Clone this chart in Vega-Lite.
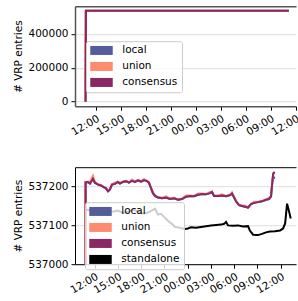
{
  "$schema": "https://vega.github.io/schema/vega-lite/v6.json",
  "padding": {"left": 13, "top": 6.2, "right": 0, "bottom": 0},
  "spacing": 29,
  "resolve": {"scale": {"color": "independent"}, "legend": {"color": "independent"}},
  "config": {
    "font": "DejaVu Sans",
    "view": {"stroke": null},
    "axis": {
      "labelFont": "DejaVu Sans", "titleFont": "DejaVu Sans",
      "labelFontSize": 10.5, "titleFontSize": 10.5, "titleFontWeight": "normal",
      "labelColor": "#000000", "titleColor": "#000000",
      "tickColor": "#000000", "domainColor": "#000000",
      "tickSize": 4, "labelPadding": 3, "domainWidth": 1, "tickWidth": 1,
      "gridColor": "#dedede", "gridWidth": 1
    },
    "axisX": {"grid": false, "labelAngle": -30, "labelAlign": "right", "labelBaseline": "top", "format": "%H:%M", "title": null, "labelOverlap": false, "labelFlush": false},
    "axisY": {"grid": true, "titlePadding": 4, "labelFlush": false, "labelOverlap": false, "format": "d"},
    "legend": {
      "title": null, "orient": "none",
      "symbolType": "M-2.5,-1H2.5V1H-2.5Z", "symbolSize": 81, "symbolStrokeWidth": 0,
      "symbolOffset": 6.25, "labelOffset": 15.5, "rowPadding": 5,
      "labelFont": "DejaVu Sans", "labelFontSize": 10.5, "labelColor": "#000000",
      "padding": 4, "fillColor": "rgba(255,255,255,0.8)", "strokeColor": "#cccccc", "cornerRadius": 2
    }
  },
  "datasets": {
    "vrp": [
      {"series":"local","time":"2021-06-01T10:47","vrps":0},
      {"series":"local","time":"2021-06-01T10:50","vrps":537211},
      {"series":"local","time":"2021-06-01T11:08","vrps":537212},
      {"series":"local","time":"2021-06-01T11:24","vrps":537208},
      {"series":"local","time":"2021-06-01T11:47","vrps":537220},
      {"series":"local","time":"2021-06-01T12:02","vrps":537210},
      {"series":"local","time":"2021-06-01T12:26","vrps":537205},
      {"series":"local","time":"2021-06-01T12:49","vrps":537203},
      {"series":"local","time":"2021-06-01T13:12","vrps":537198},
      {"series":"local","time":"2021-06-01T13:27","vrps":537196},
      {"series":"local","time":"2021-06-01T13:43","vrps":537188},
      {"series":"local","time":"2021-06-01T13:58","vrps":537192},
      {"series":"local","time":"2021-06-01T14:14","vrps":537205},
      {"series":"local","time":"2021-06-01T14:37","vrps":537207},
      {"series":"local","time":"2021-06-01T15:00","vrps":537212},
      {"series":"local","time":"2021-06-01T15:16","vrps":537208},
      {"series":"local","time":"2021-06-01T15:39","vrps":537212},
      {"series":"local","time":"2021-06-01T16:02","vrps":537214},
      {"series":"local","time":"2021-06-01T16:26","vrps":537210},
      {"series":"local","time":"2021-06-01T16:49","vrps":537215},
      {"series":"local","time":"2021-06-01T17:12","vrps":537212},
      {"series":"local","time":"2021-06-01T17:35","vrps":537216},
      {"series":"local","time":"2021-06-01T17:59","vrps":537213},
      {"series":"local","time":"2021-06-01T18:22","vrps":537217},
      {"series":"local","time":"2021-06-01T18:45","vrps":537214},
      {"series":"local","time":"2021-06-01T19:00","vrps":537210},
      {"series":"local","time":"2021-06-01T19:16","vrps":537196},
      {"series":"local","time":"2021-06-01T19:31","vrps":537183},
      {"series":"local","time":"2021-06-01T19:47","vrps":537176},
      {"series":"local","time":"2021-06-01T20:10","vrps":537172},
      {"series":"local","time":"2021-06-01T20:41","vrps":537170},
      {"series":"local","time":"2021-06-01T21:12","vrps":537172},
      {"series":"local","time":"2021-06-01T21:43","vrps":537168},
      {"series":"local","time":"2021-06-01T22:14","vrps":537170},
      {"series":"local","time":"2021-06-01T22:45","vrps":537166},
      {"series":"local","time":"2021-06-01T23:16","vrps":537168},
      {"series":"local","time":"2021-06-01T23:47","vrps":537174},
      {"series":"local","time":"2021-06-02T00:18","vrps":537176},
      {"series":"local","time":"2021-06-02T00:49","vrps":537175},
      {"series":"local","time":"2021-06-02T01:20","vrps":537179},
      {"series":"local","time":"2021-06-02T01:51","vrps":537181},
      {"series":"local","time":"2021-06-02T02:22","vrps":537180},
      {"series":"local","time":"2021-06-02T02:53","vrps":537183},
      {"series":"local","time":"2021-06-02T03:08","vrps":537186},
      {"series":"local","time":"2021-06-02T03:24","vrps":537176},
      {"series":"local","time":"2021-06-02T03:55","vrps":537176},
      {"series":"local","time":"2021-06-02T04:26","vrps":537177},
      {"series":"local","time":"2021-06-02T04:57","vrps":537175},
      {"series":"local","time":"2021-06-02T05:28","vrps":537178},
      {"series":"local","time":"2021-06-02T05:43","vrps":537182},
      {"series":"local","time":"2021-06-02T05:59","vrps":537172},
      {"series":"local","time":"2021-06-02T06:14","vrps":537162},
      {"series":"local","time":"2021-06-02T06:37","vrps":537152},
      {"series":"local","time":"2021-06-02T07:01","vrps":537150},
      {"series":"local","time":"2021-06-02T07:23","vrps":537148},
      {"series":"local","time":"2021-06-02T07:47","vrps":537146},
      {"series":"local","time":"2021-06-02T08:10","vrps":537155},
      {"series":"local","time":"2021-06-02T08:34","vrps":537158},
      {"series":"local","time":"2021-06-02T09:04","vrps":537160},
      {"series":"local","time":"2021-06-02T09:35","vrps":537162},
      {"series":"local","time":"2021-06-02T10:06","vrps":537166},
      {"series":"local","time":"2021-06-02T10:29","vrps":537168},
      {"series":"local","time":"2021-06-02T10:45","vrps":537175},
      {"series":"local","time":"2021-06-02T10:53","vrps":537205},
      {"series":"local","time":"2021-06-02T11:01","vrps":537228},
      {"series":"local","time":"2021-06-02T11:12","vrps":537220},
      {"series":"union","time":"2021-06-01T10:43","vrps":0},
      {"series":"union","time":"2021-06-01T10:46","vrps":537211},
      {"series":"union","time":"2021-06-01T11:08","vrps":537213},
      {"series":"union","time":"2021-06-01T11:24","vrps":537212},
      {"series":"union","time":"2021-06-01T11:47","vrps":537228},
      {"series":"union","time":"2021-06-01T12:02","vrps":537212},
      {"series":"union","time":"2021-06-01T12:26","vrps":537206},
      {"series":"union","time":"2021-06-01T12:49","vrps":537204},
      {"series":"union","time":"2021-06-01T13:12","vrps":537199},
      {"series":"union","time":"2021-06-01T13:27","vrps":537197},
      {"series":"union","time":"2021-06-01T13:43","vrps":537189},
      {"series":"union","time":"2021-06-01T13:58","vrps":537193},
      {"series":"union","time":"2021-06-01T14:14","vrps":537206},
      {"series":"union","time":"2021-06-01T14:37","vrps":537210},
      {"series":"union","time":"2021-06-01T15:00","vrps":537213},
      {"series":"union","time":"2021-06-01T15:16","vrps":537209},
      {"series":"union","time":"2021-06-01T15:39","vrps":537213},
      {"series":"union","time":"2021-06-01T16:02","vrps":537215},
      {"series":"union","time":"2021-06-01T16:26","vrps":537211},
      {"series":"union","time":"2021-06-01T16:49","vrps":537218},
      {"series":"union","time":"2021-06-01T17:12","vrps":537213},
      {"series":"union","time":"2021-06-01T17:35","vrps":537217},
      {"series":"union","time":"2021-06-01T17:59","vrps":537214},
      {"series":"union","time":"2021-06-01T18:22","vrps":537219},
      {"series":"union","time":"2021-06-01T18:45","vrps":537215},
      {"series":"union","time":"2021-06-01T19:00","vrps":537211},
      {"series":"union","time":"2021-06-01T19:16","vrps":537197},
      {"series":"union","time":"2021-06-01T19:31","vrps":537186},
      {"series":"union","time":"2021-06-01T19:47","vrps":537177},
      {"series":"union","time":"2021-06-01T20:10","vrps":537173},
      {"series":"union","time":"2021-06-01T20:41","vrps":537171},
      {"series":"union","time":"2021-06-01T21:12","vrps":537175},
      {"series":"union","time":"2021-06-01T21:43","vrps":537169},
      {"series":"union","time":"2021-06-01T22:14","vrps":537171},
      {"series":"union","time":"2021-06-01T22:45","vrps":537167},
      {"series":"union","time":"2021-06-01T23:16","vrps":537169},
      {"series":"union","time":"2021-06-01T23:47","vrps":537177},
      {"series":"union","time":"2021-06-02T00:18","vrps":537177},
      {"series":"union","time":"2021-06-02T00:49","vrps":537176},
      {"series":"union","time":"2021-06-02T01:20","vrps":537182},
      {"series":"union","time":"2021-06-02T01:51","vrps":537182},
      {"series":"union","time":"2021-06-02T02:22","vrps":537181},
      {"series":"union","time":"2021-06-02T02:53","vrps":537186},
      {"series":"union","time":"2021-06-02T03:08","vrps":537187},
      {"series":"union","time":"2021-06-02T03:24","vrps":537177},
      {"series":"union","time":"2021-06-02T03:55","vrps":537177},
      {"series":"union","time":"2021-06-02T04:26","vrps":537180},
      {"series":"union","time":"2021-06-02T04:57","vrps":537176},
      {"series":"union","time":"2021-06-02T05:28","vrps":537179},
      {"series":"union","time":"2021-06-02T05:43","vrps":537185},
      {"series":"union","time":"2021-06-02T05:59","vrps":537173},
      {"series":"union","time":"2021-06-02T06:14","vrps":537163},
      {"series":"union","time":"2021-06-02T06:37","vrps":537153},
      {"series":"union","time":"2021-06-02T07:01","vrps":537151},
      {"series":"union","time":"2021-06-02T07:23","vrps":537151},
      {"series":"union","time":"2021-06-02T07:47","vrps":537147},
      {"series":"union","time":"2021-06-02T08:10","vrps":537156},
      {"series":"union","time":"2021-06-02T08:34","vrps":537161},
      {"series":"union","time":"2021-06-02T09:04","vrps":537161},
      {"series":"union","time":"2021-06-02T09:35","vrps":537163},
      {"series":"union","time":"2021-06-02T10:06","vrps":537167},
      {"series":"union","time":"2021-06-02T10:29","vrps":537171},
      {"series":"union","time":"2021-06-02T10:45","vrps":537176},
      {"series":"union","time":"2021-06-02T10:53","vrps":537206},
      {"series":"union","time":"2021-06-02T11:01","vrps":537233},
      {"series":"union","time":"2021-06-02T11:12","vrps":537236},
      {"series":"consensus","time":"2021-06-01T10:47","vrps":0},
      {"series":"consensus","time":"2021-06-01T10:50","vrps":537211},
      {"series":"consensus","time":"2021-06-01T11:08","vrps":537212},
      {"series":"consensus","time":"2021-06-01T11:24","vrps":537208},
      {"series":"consensus","time":"2021-06-01T11:47","vrps":537220},
      {"series":"consensus","time":"2021-06-01T12:02","vrps":537210},
      {"series":"consensus","time":"2021-06-01T12:26","vrps":537205},
      {"series":"consensus","time":"2021-06-01T12:49","vrps":537203},
      {"series":"consensus","time":"2021-06-01T13:12","vrps":537198},
      {"series":"consensus","time":"2021-06-01T13:27","vrps":537196},
      {"series":"consensus","time":"2021-06-01T13:43","vrps":537188},
      {"series":"consensus","time":"2021-06-01T13:58","vrps":537192},
      {"series":"consensus","time":"2021-06-01T14:14","vrps":537205},
      {"series":"consensus","time":"2021-06-01T14:37","vrps":537207},
      {"series":"consensus","time":"2021-06-01T15:00","vrps":537212},
      {"series":"consensus","time":"2021-06-01T15:16","vrps":537208},
      {"series":"consensus","time":"2021-06-01T15:39","vrps":537212},
      {"series":"consensus","time":"2021-06-01T16:02","vrps":537214},
      {"series":"consensus","time":"2021-06-01T16:26","vrps":537210},
      {"series":"consensus","time":"2021-06-01T16:49","vrps":537215},
      {"series":"consensus","time":"2021-06-01T17:12","vrps":537212},
      {"series":"consensus","time":"2021-06-01T17:35","vrps":537216},
      {"series":"consensus","time":"2021-06-01T17:59","vrps":537213},
      {"series":"consensus","time":"2021-06-01T18:22","vrps":537217},
      {"series":"consensus","time":"2021-06-01T18:45","vrps":537214},
      {"series":"consensus","time":"2021-06-01T19:00","vrps":537210},
      {"series":"consensus","time":"2021-06-01T19:16","vrps":537196},
      {"series":"consensus","time":"2021-06-01T19:31","vrps":537183},
      {"series":"consensus","time":"2021-06-01T19:47","vrps":537176},
      {"series":"consensus","time":"2021-06-01T20:10","vrps":537172},
      {"series":"consensus","time":"2021-06-01T20:41","vrps":537170},
      {"series":"consensus","time":"2021-06-01T21:12","vrps":537172},
      {"series":"consensus","time":"2021-06-01T21:43","vrps":537168},
      {"series":"consensus","time":"2021-06-01T22:14","vrps":537170},
      {"series":"consensus","time":"2021-06-01T22:45","vrps":537166},
      {"series":"consensus","time":"2021-06-01T23:16","vrps":537168},
      {"series":"consensus","time":"2021-06-01T23:47","vrps":537174},
      {"series":"consensus","time":"2021-06-02T00:18","vrps":537176},
      {"series":"consensus","time":"2021-06-02T00:49","vrps":537175},
      {"series":"consensus","time":"2021-06-02T01:20","vrps":537179},
      {"series":"consensus","time":"2021-06-02T01:51","vrps":537181},
      {"series":"consensus","time":"2021-06-02T02:22","vrps":537180},
      {"series":"consensus","time":"2021-06-02T02:53","vrps":537183},
      {"series":"consensus","time":"2021-06-02T03:08","vrps":537186},
      {"series":"consensus","time":"2021-06-02T03:24","vrps":537176},
      {"series":"consensus","time":"2021-06-02T03:55","vrps":537176},
      {"series":"consensus","time":"2021-06-02T04:26","vrps":537177},
      {"series":"consensus","time":"2021-06-02T04:57","vrps":537175},
      {"series":"consensus","time":"2021-06-02T05:28","vrps":537178},
      {"series":"consensus","time":"2021-06-02T05:43","vrps":537182},
      {"series":"consensus","time":"2021-06-02T05:59","vrps":537172},
      {"series":"consensus","time":"2021-06-02T06:14","vrps":537162},
      {"series":"consensus","time":"2021-06-02T06:37","vrps":537152},
      {"series":"consensus","time":"2021-06-02T07:01","vrps":537150},
      {"series":"consensus","time":"2021-06-02T07:23","vrps":537148},
      {"series":"consensus","time":"2021-06-02T07:47","vrps":537146},
      {"series":"consensus","time":"2021-06-02T08:10","vrps":537155},
      {"series":"consensus","time":"2021-06-02T08:34","vrps":537158},
      {"series":"consensus","time":"2021-06-02T09:04","vrps":537160},
      {"series":"consensus","time":"2021-06-02T09:35","vrps":537162},
      {"series":"consensus","time":"2021-06-02T10:06","vrps":537166},
      {"series":"consensus","time":"2021-06-02T10:29","vrps":537168},
      {"series":"consensus","time":"2021-06-02T10:45","vrps":537175},
      {"series":"consensus","time":"2021-06-02T10:53","vrps":537205},
      {"series":"consensus","time":"2021-06-02T11:01","vrps":537232},
      {"series":"consensus","time":"2021-06-02T11:12","vrps":537238},
      {"series":"standalone","time":"2021-06-01T10:47","vrps":537140},
      {"series":"standalone","time":"2021-06-01T12:26","vrps":537138},
      {"series":"standalone","time":"2021-06-01T13:43","vrps":537140},
      {"series":"standalone","time":"2021-06-01T14:22","vrps":537135},
      {"series":"standalone","time":"2021-06-01T15:00","vrps":537138},
      {"series":"standalone","time":"2021-06-01T15:39","vrps":537132},
      {"series":"standalone","time":"2021-06-01T16:18","vrps":537135},
      {"series":"standalone","time":"2021-06-01T16:57","vrps":537140},
      {"series":"standalone","time":"2021-06-01T17:35","vrps":537136},
      {"series":"standalone","time":"2021-06-01T18:14","vrps":537130},
      {"series":"standalone","time":"2021-06-01T18:53","vrps":537133},
      {"series":"standalone","time":"2021-06-01T19:31","vrps":537140},
      {"series":"standalone","time":"2021-06-01T19:47","vrps":537143},
      {"series":"standalone","time":"2021-06-01T20:10","vrps":537128},
      {"series":"standalone","time":"2021-06-01T20:33","vrps":537130},
      {"series":"standalone","time":"2021-06-01T21:04","vrps":537120},
      {"series":"standalone","time":"2021-06-01T21:27","vrps":537112},
      {"series":"standalone","time":"2021-06-01T21:58","vrps":537104},
      {"series":"standalone","time":"2021-06-01T22:22","vrps":537096},
      {"series":"standalone","time":"2021-06-01T22:45","vrps":537095},
      {"series":"standalone","time":"2021-06-01T23:08","vrps":537093},
      {"series":"standalone","time":"2021-06-01T23:39","vrps":537091},
      {"series":"standalone","time":"2021-06-02T00:02","vrps":537092},
      {"series":"standalone","time":"2021-06-02T00:25","vrps":537095},
      {"series":"standalone","time":"2021-06-02T01:04","vrps":537094},
      {"series":"standalone","time":"2021-06-02T01:43","vrps":537096},
      {"series":"standalone","time":"2021-06-02T02:22","vrps":537098},
      {"series":"standalone","time":"2021-06-02T03:01","vrps":537100},
      {"series":"standalone","time":"2021-06-02T03:40","vrps":537101},
      {"series":"standalone","time":"2021-06-02T04:18","vrps":537102},
      {"series":"standalone","time":"2021-06-02T04:42","vrps":537104},
      {"series":"standalone","time":"2021-06-02T04:57","vrps":537109},
      {"series":"standalone","time":"2021-06-02T05:12","vrps":537100},
      {"series":"standalone","time":"2021-06-02T05:51","vrps":537099},
      {"series":"standalone","time":"2021-06-02T06:30","vrps":537100},
      {"series":"standalone","time":"2021-06-02T07:08","vrps":537097},
      {"series":"standalone","time":"2021-06-02T07:47","vrps":537098},
      {"series":"standalone","time":"2021-06-02T08:02","vrps":537086},
      {"series":"standalone","time":"2021-06-02T08:26","vrps":537076},
      {"series":"standalone","time":"2021-06-02T09:04","vrps":537075},
      {"series":"standalone","time":"2021-06-02T09:35","vrps":537078},
      {"series":"standalone","time":"2021-06-02T10:06","vrps":537082},
      {"series":"standalone","time":"2021-06-02T10:37","vrps":537084},
      {"series":"standalone","time":"2021-06-02T11:16","vrps":537085},
      {"series":"standalone","time":"2021-06-02T11:55","vrps":537087},
      {"series":"standalone","time":"2021-06-02T12:18","vrps":537092},
      {"series":"standalone","time":"2021-06-02T12:34","vrps":537105},
      {"series":"standalone","time":"2021-06-02T12:49","vrps":537156},
      {"series":"standalone","time":"2021-06-02T13:05","vrps":537135},
      {"series":"standalone","time":"2021-06-02T13:17","vrps":537118}
    ]
  },
  "vconcat": [
    {
      "width": 221,
      "height": 100,
      "data": {"name": "vrp"},
      "transform": [{"filter": "datum.series !== 'standalone'"}],
      "layer": [
        {
          "mark": {"type": "line", "clip": true, "strokeWidth": 2},
          "encoding": {
            "x": {"field": "time", "type": "temporal",
                  "scale": {"domain": [{"year": 2021, "month": 6, "date": 1, "hours": 9, "minutes": 31}, {"year": 2021, "month": 6, "date": 2, "hours": 12, "minutes": 3}]},
                  "axis": {"domainColor": "#555555", "domainWidth": 1.5, "values": [
                    {"year": 2021, "month": 6, "date": 1, "hours": 12}, {"year": 2021, "month": 6, "date": 1, "hours": 15},
                    {"year": 2021, "month": 6, "date": 1, "hours": 18}, {"year": 2021, "month": 6, "date": 1, "hours": 21},
                    {"year": 2021, "month": 6, "date": 2, "hours": 0}, {"year": 2021, "month": 6, "date": 2, "hours": 3},
                    {"year": 2021, "month": 6, "date": 2, "hours": 6}, {"year": 2021, "month": 6, "date": 2, "hours": 9},
                    {"year": 2021, "month": 6, "date": 2, "hours": 12}]}},
            "y": {"field": "vrps", "type": "quantitative",
                  "scale": {"domain": [-26862, 564100], "nice": false, "zero": false},
                  "axis": {"title": "# VRP entries", "values": [0, 200000, 400000], "domainColor": "#555555", "domainWidth": 1.5}},
            "color": {"field": "series", "type": "nominal",
                      "scale": {"domain": ["local", "union", "consensus"], "range": ["#555c9c", "#fd8b70", "#8a2863"]},
                      "legend": {"legendX": 11, "legendY": 35,
                                 "encode": {"symbols": {"update": {"fill": {"signal": "datum.value === 'local' ? '#555c9c' : datum.value === 'union' ? '#fd8b70' : datum.value === 'consensus' ? '#8a2863' : '#000000'"}, "strokeWidth": {"value": 0}, "opacity": {"value": 1}}}}}}
          }
        },
        {
          "mark": {"type": "rule", "opacity": 0},
          "encoding": {
            "x": {"field": "time", "type": "temporal",
                  "scale": {"domain": [{"year": 2021, "month": 6, "date": 1, "hours": 9, "minutes": 31}, {"year": 2021, "month": 6, "date": 2, "hours": 12, "minutes": 3}]},
                  "axis": {"orient": "top", "labels": false, "ticks": false, "grid": false, "title": null, "domain": true, "domainColor": "#555555", "domainWidth": 1.5}}
          }
        }
      ],
      "resolve": {"axis": {"x": "independent"}}
    },
    {
      "width": 221,
      "height": 97,
      "data": {"name": "vrp"},
      "layer": [
        {
          "mark": {"type": "line", "clip": true, "strokeWidth": 2},
          "encoding": {
            "x": {"field": "time", "type": "temporal",
                  "scale": {"domain": [{"year": 2021, "month": 6, "date": 1, "hours": 9, "minutes": 28}, {"year": 2021, "month": 6, "date": 2, "hours": 13, "minutes": 58}]},
                  "axis": {"values": [
                    {"year": 2021, "month": 6, "date": 1, "hours": 12}, {"year": 2021, "month": 6, "date": 1, "hours": 15},
                    {"year": 2021, "month": 6, "date": 1, "hours": 18}, {"year": 2021, "month": 6, "date": 1, "hours": 21},
                    {"year": 2021, "month": 6, "date": 2, "hours": 0}, {"year": 2021, "month": 6, "date": 2, "hours": 3},
                    {"year": 2021, "month": 6, "date": 2, "hours": 6}, {"year": 2021, "month": 6, "date": 2, "hours": 9},
                    {"year": 2021, "month": 6, "date": 2, "hours": 12}]}},
            "y": {"field": "vrps", "type": "quantitative",
                  "scale": {"domain": [537000, 537250], "nice": false, "zero": false},
                  "axis": {"title": "# VRP entries", "values": [537000, 537100, 537200]}},
            "color": {"field": "series", "type": "nominal",
                      "scale": {"domain": ["local", "union", "consensus", "standalone"], "range": ["#555c9c", "#fd8b70", "#8a2863", "#000000"]},
                      "legend": {"legendX": 10, "legendY": 35,
                                 "encode": {"symbols": {"update": {"fill": {"signal": "datum.value === 'local' ? '#555c9c' : datum.value === 'union' ? '#fd8b70' : datum.value === 'consensus' ? '#8a2863' : '#000000'"}, "strokeWidth": {"value": 0}, "opacity": {"value": 1}}}}}}
          }
        },
        {
          "mark": {"type": "rule", "opacity": 0},
          "encoding": {
            "x": {"field": "time", "type": "temporal",
                  "scale": {"domain": [{"year": 2021, "month": 6, "date": 1, "hours": 9, "minutes": 28}, {"year": 2021, "month": 6, "date": 2, "hours": 13, "minutes": 58}]},
                  "axis": {"orient": "top", "labels": false, "ticks": false, "grid": false, "title": null, "domain": true}}
          }
        }
      ],
      "resolve": {"axis": {"x": "independent"}}
    }
  ]
}
